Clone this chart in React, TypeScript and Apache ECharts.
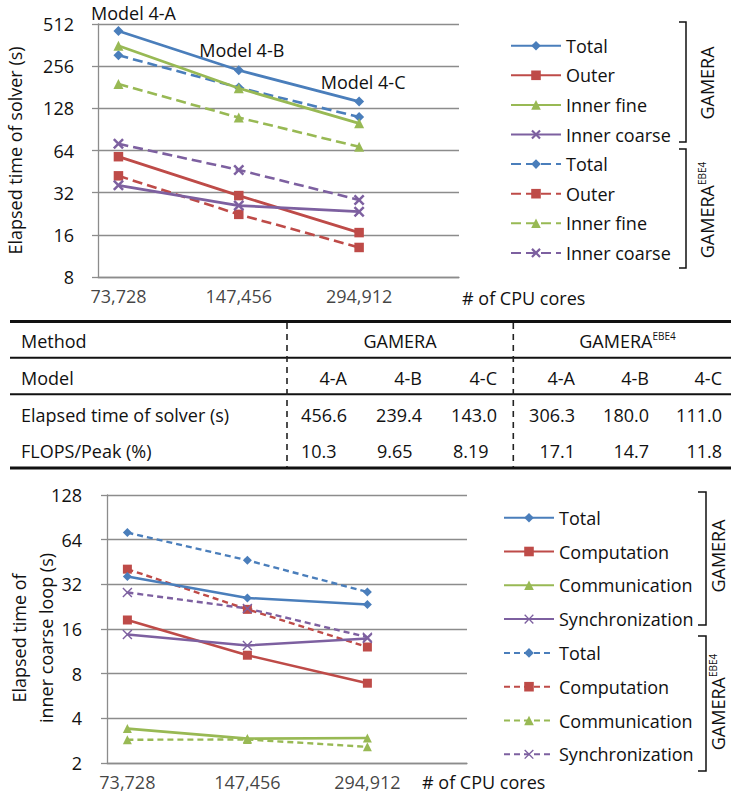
import React, { useEffect, useRef } from 'react';
import * as echarts from 'echarts';

// ---------- data ----------
const cores = [73728, 147456, 294912];
const coreLabels = ['73,728', '147,456', '294,912'];
const modelLabels = ['Model 4-A', 'Model 4-B', 'Model 4-C'];

// top chart: elapsed time of solver (s)
const solverGameraTotal = [456.6, 239.4, 143.0];
const solverGameraOuter = [57.8, 30.5, 16.6];
const solverGameraInnerFine = [358, 178, 100];
const solverGameraInnerCoarse = [36.1, 25.9, 23.4];
const solverEbeTotal = [306.3, 180.0, 111.0];
const solverEbeOuter = [42.2, 22.4, 13.0];
const solverEbeInnerFine = [191, 110, 68];
const solverEbeInnerCoarse = [71.4, 46.5, 28.4];

// bottom chart: elapsed time of inner coarse loop (s)
const coarseGameraTotal = [36.1, 25.9, 23.4];
const coarseGameraComputation = [18.4, 10.65, 6.9];
const coarseGameraCommunication = [3.41, 2.92, 2.95];
const coarseGameraSync = [14.7, 12.4, 13.8];
const coarseEbeTotal = [71.4, 46.5, 28.4];
const coarseEbeComputation = [40.5, 21.7, 12.1];
const coarseEbeCommunication = [2.87, 2.88, 2.57];
const coarseEbeSync = [28.2, 22.0, 14.1];

const topLegendLabels = ['Total', 'Outer', 'Inner fine', 'Inner coarse'];
const bottomLegendLabels = ['Total', 'Computation', 'Communication', 'Synchronization'];

// table
const tableModels = ['4-A', '4-B', '4-C'];
const flopsGamera = ['10.3', '9.65', '8.19'];
const flopsEbe = ['17.1', '14.7', '11.8'];

// ---------- styles ----------
const FONT = '"Open Sans", "Noto Sans", sans-serif';
const FS = 18;
const BLUE = '#4A7EBB';
const RED = '#BE4B48';
const GREEN = '#98B954';
const PURPLE = '#7D60A0';
const GRIDC = '#8C8C8C';
const CROSS = 'path://M0,1.6 L1.6,0 L5,3.4 L8.4,0 L10,1.6 L6.6,5 L10,8.4 L8.4,10 L5,6.6 L1.6,10 L0,8.4 L3.4,5 Z';
const CROSS_THIN = 'path://M0,1 L1,0 L5,4 L9,0 L10,1 L6,5 L10,9 L9,10 L5,6 L1,10 L0,9 L4,5 Z';
const modelLabelOffsets = [[15, 1], [3, -1], [4, -1]];

const colors = [BLUE, RED, GREEN, PURPLE];

function pairs(vals: number[]) {
  return cores.map((c, i) => [c, vals[i]]);
}

function lineSeries(
  name: string, vals: number[], color: string, symbol: string, size: number,
  dash: number[] | null, axis: number, width: number
): any {
  return {
    type: 'line',
    name,
    xAxisIndex: axis,
    yAxisIndex: axis,
    data: pairs(vals),
    symbol,
    symbolSize: size,
    showAllSymbol: true,
    lineStyle: { color, width, type: dash ? dash : 'solid' },
    itemStyle: { color, borderWidth: 0 },
    z: dash ? 2 : 3,
  };
}

export default function App() {
  const ref = useRef<HTMLDivElement>(null);
  useEffect(() => {
    document.body.style.margin = '0';
    if (!ref.current) return;
    const chart = echarts.init(ref.current, null, { renderer: 'svg' });

    const topSym = ['diamond', 'rect', 'triangle', CROSS];
    const topSize = [10, 9.5, 10, 11];
    const botSym = ['diamond', 'rect', 'triangle', CROSS_THIN];
    const botSize = [9, 9, 9, 10];
    const topG = [solverGameraTotal, solverGameraOuter, solverGameraInnerFine, solverGameraInnerCoarse];
    const topE = [solverEbeTotal, solverEbeOuter, solverEbeInnerFine, solverEbeInnerCoarse];
    const botG = [coarseGameraTotal, coarseGameraComputation, coarseGameraCommunication, coarseGameraSync];
    const botE = [coarseEbeTotal, coarseEbeComputation, coarseEbeCommunication, coarseEbeSync];

    const nameMap: Record<string, string> = {};
    const series: any[] = [];
    const topNames: string[] = [];
    const botNames: string[] = [];

    // top chart
    topE.forEach((v, i) => {
      const n = 'sE' + i; nameMap[n] = topLegendLabels[i];
      series.push(lineSeries(n, v, colors[i], topSym[i], topSize[i], [10, 5], 0, 2.6));
    });
    topG.forEach((v, i) => {
      const n = 'sG' + i; nameMap[n] = topLegendLabels[i];
      const s = lineSeries(n, v, colors[i], topSym[i], topSize[i], null, 0, 2.8);
      if (i === 0) {
        s.data = cores.map((c, k) => ({ value: [c, v[k]], label: { offset: modelLabelOffsets[k] } }));
        s.label = {
          show: true, position: 'top', distance: 5, fontSize: FS, fontFamily: FONT, color: '#111',
          formatter: (p: any) => modelLabels[p.dataIndex],
        };
      }
      series.push(s);
    });
    for (let i = 0; i < 4; i++) topNames.push('sG' + i);
    for (let i = 0; i < 4; i++) topNames.push('sE' + i);

    // bottom chart
    botE.forEach((v, i) => {
      const n = 'cE' + i; nameMap[n] = bottomLegendLabels[i];
      series.push(lineSeries(n, v, colors[i], botSym[i], botSize[i], [6, 4], 1, 2.4));
    });
    botG.forEach((v, i) => {
      const n = 'cG' + i; nameMap[n] = bottomLegendLabels[i];
      series.push(lineSeries(n, v, colors[i], botSym[i], botSize[i], null, 1, 2.6));
    });
    for (let i = 0; i < 4; i++) botNames.push('cG' + i);
    for (let i = 0; i < 4; i++) botNames.push('cE' + i);

    // x tick labels drawn at the data positions through the axes
    [0, 1].forEach((ax) => {
      series.push({
        type: 'scatter', name: 'xl' + ax, xAxisIndex: ax, yAxisIndex: ax, silent: true,
        data: cores.map((c) => [c, ax === 0 ? 8 : 2]),
        symbolSize: 1, itemStyle: { color: 'rgba(0,0,0,0)' },
        label: {
          show: true, position: 'bottom', distance: 9, fontSize: FS, fontFamily: FONT, color: '#111',
          formatter: (p: any) => coreLabels[p.dataIndex],
        },
        z: 1,
      });
    });

    const axisLine = { show: true, lineStyle: { color: GRIDC, width: 1.3 } };
    const yAxisBase = (grid: number, min: number, max: number, margin: number): any => ({
      gridIndex: grid, type: 'log', logBase: 2, min, max, splitNumber: 6,
      axisLine, axisTick: { show: true, length: 6, lineStyle: { color: GRIDC, width: 1.3 } },
      axisLabel: { margin, fontSize: FS, fontFamily: FONT, color: '#111', formatter: (v: number) => String(Math.round(v)) },
      splitLine: { show: true, lineStyle: { color: GRIDC, width: 1.3 } },
    });
    const xAxisBase = (grid: number): any => ({
      gridIndex: grid, type: 'log', logBase: 2, min: 65536, max: 524288,
      axisLine, axisTick: { show: false }, axisLabel: { show: false }, splitLine: { show: false },
    });

    const legendBase = (top: number, left: number, gap: number, data: string[]): any => ({
      orient: 'vertical', top, left, itemWidth: 50, itemHeight: 12, itemGap: gap, data,
      selectedMode: false, itemStyle: { borderWidth: 0 },
      formatter: (n: string) => nameMap[n],
      textStyle: { fontSize: FS, fontFamily: FONT, color: '#111', lineHeight: 20 },
    });

    const T = (x: number, y: number, text: string, align: string, extra: any = {}, rotation = 0): any => ({
      type: 'text', x, y, rotation, silent: true,
      style: {
        text, fontSize: FS, fontFamily: FONT, fill: '#111',
        align, textAlign: align, verticalAlign: 'middle', textVerticalAlign: 'middle', ...extra,
      },
    });
    const richGE = (x: number, y: number, rot: number, align: string): any => ({
      type: 'text', x, y, rotation: rot, silent: true,
      style: {
        text: '{m|GAMERA}{s|EBE4}', align, textAlign: align, verticalAlign: 'middle', textVerticalAlign: 'middle',
        fill: '#111', fontFamily: FONT,
        rich: {
          m: { fontSize: FS, fontFamily: FONT, fill: '#111', color: '#111', lineHeight: 20 },
          s: { fontSize: 10, fontFamily: FONT, fill: '#111', color: '#111', lineHeight: 11, verticalAlign: 'top' },
        },
      },
    });
    const bracket = (x: number, y1: number, y2: number, hook: number): any => ({
      type: 'polyline', silent: true,
      shape: { points: [[x - hook, y1], [x, y1], [x, y2], [x - hook, y2]] },
      style: { stroke: '#111', lineWidth: 1.5, fill: 'none' },
    });
    const hline = (y: number, w: number): any => ({
      type: 'line', silent: true, shape: { x1: 10, y1: y, x2: 731, y2: y }, style: { stroke: '#111', lineWidth: w },
    });
    const vdash = (x: number): any => ({
      type: 'line', silent: true, shape: { x1: x, y1: 323, x2: x, y2: 467 },
      style: { stroke: '#222', lineWidth: 1.6, lineDash: [6, 5] },
    });

    const gRight = [347, 422, 497];
    const eRight = [575, 649, 722];
    const gLeft = [301, 377, 453];
    const rowY = [340.7, 378.3, 415, 451.3];
    const R = Math.PI / 2;

    const graphics: any[] = [
      T(15, 150.5, 'Elapsed time of solver (s)', 'center', {}, R),
      T(32, 638, 'Elapsed time of\ninner coarse loop (s)', 'center', { lineHeight: 27 }, R),
      T(462, 298, '# of CPU cores', 'left'),
      T(422, 782, '# of CPU cores', 'left'),
      bracket(686, 22, 142, 7),
      bracket(686, 149, 268, 7),
      bracket(706, 492, 625, 8),
      bracket(706, 636, 771, 8),
      T(707, 83, 'GAMERA', 'center', {}, R),
      richGE(707, 210, R, 'center'),
      T(718, 556, 'GAMERA', 'center', {}, R),
      richGE(718, 702, R, 'center'),
      // table
      hline(321.5, 3), hline(357.7, 2), hline(394.2, 2), hline(468, 3),
      vdash(287), vdash(513.3),
      T(21, rowY[0], 'Method', 'left'),
      T(21, rowY[1], 'Model', 'left'),
      T(21, rowY[2], 'Elapsed time of solver (s)', 'left'),
      T(21, rowY[3], 'FLOPS/Peak (%)', 'left'),
      T(400, rowY[0], 'GAMERA', 'center'),
      richGE(627.5, rowY[0], 0, 'center'),
    ];
    tableModels.forEach((m, i) => {
      graphics.push(T(gRight[i], rowY[1], m, 'right'));
      graphics.push(T(eRight[i], rowY[1], m, 'right'));
      graphics.push(T(gRight[i], rowY[2], solverGameraTotal[i].toFixed(1), 'right'));
      graphics.push(T(eRight[i], rowY[2], solverEbeTotal[i].toFixed(1), 'right'));
      graphics.push(T(gLeft[i], rowY[3], flopsGamera[i], 'left'));
      graphics.push(T(eRight[i], rowY[3], flopsEbe[i], 'right'));
    });

    chart.setOption({
      animation: false,
      backgroundColor: '#fff',
      textStyle: { fontFamily: FONT },
      grid: [
        { left: 98, top: 24, width: 361, height: 253 },
        { left: 107, top: 495, width: 360, height: 268 },
      ],
      xAxis: [xAxisBase(0), xAxisBase(1)],
      yAxis: [yAxisBase(0, 8, 512, 24), yAxisBase(1, 2, 128, 25)],
      legend: [legendBase(30.7, 505, 9.6, topNames), legendBase(502.7, 498, 13.8, botNames)],
      series,
      graphic: graphics,
    });
    return () => chart.dispose();
  }, []);
  return <div ref={ref} style={{ width: 731, height: 797 }} />;
}
